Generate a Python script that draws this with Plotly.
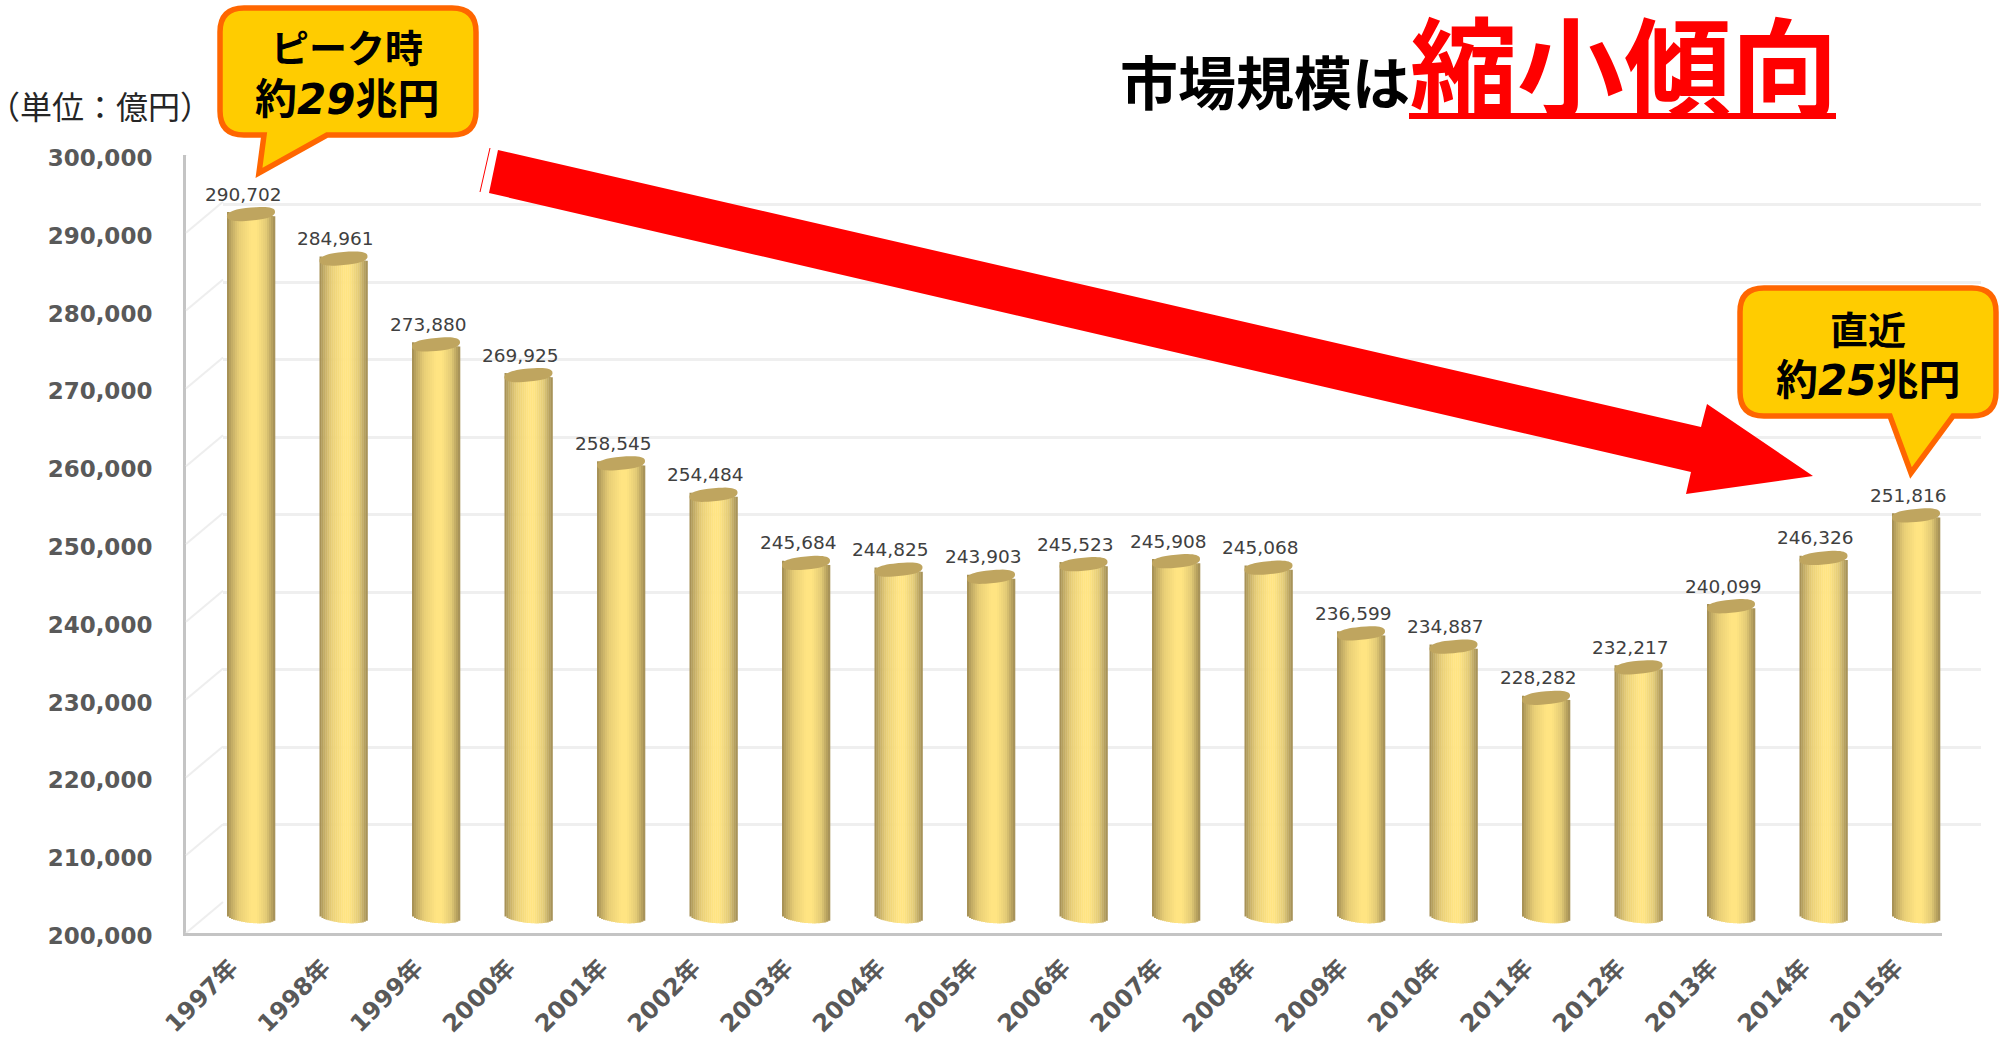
"""Market size bar chart, 1997-2015, drawn as gradient cylinders."""
import math

import plotly.graph_objects as go

WIDTH = 1999
HEIGHT = 1038
CJK = "Noto Sans CJK JP"
LATIN = f"DejaVu Sans, {CJK}"

YEARS = ["1997年", "1998年", "1999年", "2000年", "2001年", "2002年", "2003年",
         "2004年", "2005年", "2006年", "2007年", "2008年", "2009年", "2010年",
         "2011年", "2012年", "2013年", "2014年", "2015年"]
VALUES = [290702, 284961, 273880, 269925, 258545, 254484, 245684, 244825, 243903,
          245523, 245908, 245068, 236599, 234887, 228282, 232217, 240099, 246326, 251816]
Y_TICKS = [200000, 210000, 220000, 230000, 240000, 250000, 260000, 270000, 280000, 290000, 300000]
Y_MIN = 200000
Y_MAX = 300000

# cylinder look, position across the bar -> colour
BAR_STOPS = [(0.0, (160, 138, 82)), (0.08, (190, 167, 98)), (0.25, (232, 206, 118)),
             (0.5, (255, 228, 130)), (0.62, (255, 228, 130)), (0.82, (226, 202, 118)),
             (0.94, (182, 160, 94)), (1.0, (160, 140, 86))]
TOP_COLOR = "#bfa55f"
STRIPS = 24
BAR_PX = 48
STEP_PX = 92.5
CAP_RY = 6.5
CAP_TILT = 2.2
UNITS_PER_PX = (Y_MAX - Y_MIN) / 775
BAR_PAD_PX = 12


def px(x):
    return x / WIDTH


def py(y):
    return 1 - y / HEIGHT


def strip_color(t):
    for (a, ca), (b, cb) in zip(BAR_STOPS, BAR_STOPS[1:]):
        if t <= b:
            k = (t - a) / (b - a)
            return "rgb(%d,%d,%d)" % tuple(round(p + (q - p) * k) for p, q in zip(ca, cb))
    return "rgb(160,140,86)"


def poly_path(points):
    cmds = [f"{'M' if i == 0 else 'L'}{px(x):.5f},{py(y):.5f}" for i, (x, y) in enumerate(points)]
    return " ".join(cmds) + " Z"


def callout_path(x0, y0, x1, y1, r, tip, base_a, base_b):
    # rounded box with the pointer on its lower edge, drawn clockwise
    p = lambda x, y: f"{px(x):.5f},{py(y):.5f}"
    return (f"M{p(x0 + r, y0)} L{p(x1 - r, y0)} Q{p(x1, y0)} {p(x1, y0 + r)} "
            f"L{p(x1, y1 - r)} Q{p(x1, y1)} {p(x1 - r, y1)} "
            f"L{p(base_b, y1)} L{p(*tip)} L{p(base_a, y1)} "
            f"L{p(x0 + r, y1)} Q{p(x0, y1)} {p(x0, y1 - r)} "
            f"L{p(x0, y0 + r)} Q{p(x0, y0)} {p(x0 + r, y0)} Z")


fig = go.Figure()

# back wall grid and front frame need a trace to have their axes drawn
fig.add_trace(go.Scatter(x=[0], y=[Y_MIN], mode="none", xaxis="x", yaxis="y", showlegend=False, hoverinfo="skip"))
fig.add_trace(go.Scatter(x=[0], y=[Y_MIN], mode="none", xaxis="x2", yaxis="y2", showlegend=False, hoverinfo="skip"))

strip_w = BAR_PX / STEP_PX / STRIPS
for s in range(STRIPS):
    t = (s + 0.5) / STRIPS
    u = 2 * t - 1
    tilt = -CAP_TILT * u * UNITS_PER_PX
    bottom = Y_MIN + tilt - 6 * math.sqrt(1 - u * u) * UNITS_PER_PX
    tops = [v + tilt for v in VALUES]
    fig.add_trace(go.Bar(
        x=YEARS,
        y=[top - bottom for top in tops],
        base=bottom,
        width=strip_w * 1.15,
        offset=-BAR_PX / STEP_PX / 2 + s * strip_w,
        marker=dict(color=strip_color(t), line=dict(width=0)),
        xaxis="x3",
        yaxis="y3",
        showlegend=False,
        hoverinfo="skip",
    ))

shapes = []

# side walls of the 3D frame
for tick in Y_TICKS:
    shapes.append(dict(type="line", xref="paper", yref="y2", xsizemode="pixel", ysizemode="pixel",
                       xanchor=px(186), yanchor=tick, x0=0, x1=37, y0=0, y1=31,
                       line=dict(color="#eeeeee", width=2)))

# cylinder tops, a little squarer than an ellipse
cap_pts = []
for k in range(48):
    a = 2 * math.pi * k / 48
    ca = math.copysign(abs(math.cos(a)) ** 0.75, math.cos(a))
    sa = math.copysign(abs(math.sin(a)) ** 0.85, math.sin(a))
    cx = BAR_PX / 2 * ca
    cy = CAP_RY * sa + CAP_TILT * ca
    cap_pts.append(f"{'M' if k == 0 else 'L'}{cx:.2f},{cy:.2f}")
cap_path = " ".join(cap_pts) + " Z"
for year, value in zip(YEARS, VALUES):
    shapes.append(dict(type="path", xref="x3", yref="y3", xsizemode="pixel", ysizemode="pixel",
                       xanchor=year, yanchor=value, path=cap_path,
                       fillcolor=TOP_COLOR, line=dict(width=0)))

# white box behind the headline hides the top grid line
shapes.append(dict(type="rect", xref="paper", yref="paper", x0=px(1104), x1=px(1908), y0=py(138), y1=py(90),
                   fillcolor="white", line=dict(width=0)))
shapes.append(dict(type="rect", xref="paper", yref="paper", x0=px(1409), x1=px(1836), y0=py(119), y1=py(113),
                   fillcolor="#ff0000", line=dict(width=0)))

# red trend arrow
shapes.append(dict(type="path", xref="paper", yref="paper",
                   path=poly_path([(498, 150), (1701, 427), (1707, 404), (1813, 476),
                                   (1686, 494), (1691, 472), (489, 193)]),
                   fillcolor="#ff0000", line=dict(width=0)))
shapes.append(dict(type="line", xref="paper", yref="paper", x0=px(490), y0=py(148), x1=px(480), y1=py(192),
                   line=dict(color="#ff0000", width=1)))

# callouts
shapes.append(dict(type="path", xref="paper", yref="paper",
                   path=callout_path(220, 8, 476, 135, 24, (259, 173), 264, 327),
                   fillcolor="#ffcc00", line=dict(color="#ff6600", width=5.5)))
shapes.append(dict(type="path", xref="paper", yref="paper",
                   path=callout_path(1740, 288, 1996, 416, 24, (1911, 473), 1890, 1953),
                   fillcolor="#ffcc00", line=dict(color="#ff6600", width=5.5)))

annotations = []
for year, value in zip(YEARS, VALUES):
    annotations.append(dict(x=year, y=value, xref="x3", yref="y3", text=f"{value:,}", showarrow=False,
                            xshift=-8, yshift=20, font=dict(family="DejaVu Sans", size=18.5, color="#404040")))


def note(x, y, text, size, color="#000000", family=CJK):
    annotations.append(dict(x=px(x), y=py(y), xref="paper", yref="paper", text=text, showarrow=False,
                            xanchor="center", yanchor="middle", font=dict(family=family, size=size, color=color)))


note(100, 105, "（単位：億円）", 32, "#262626")
note(347, 46, "<b>ピーク時</b>", 38)
note(347, 100, "<b>約<i>29</i>兆円</b>", 42, family=LATIN)
note(1868, 327, "<b>直近</b>", 38)
note(1868, 380, "<b>約<i>25</i>兆円</b>", 42, family=LATIN)
note(1265, 80, "<b>市場規模は</b>", 58)
note(1624, 62, "<b>縮小傾向</b>", 107, "#ff0000")

fig.update_layout(
    width=WIDTH,
    height=HEIGHT,
    margin=dict(l=0, r=0, t=0, b=0, autoexpand=False),
    paper_bgcolor="white",
    plot_bgcolor="rgba(0,0,0,0)",
    barmode="overlay",
    showlegend=False,
    shapes=shapes,
    annotations=annotations,
    font=dict(family=LATIN),
    # back wall
    xaxis=dict(domain=[px(223), px(1981)], visible=False, range=[0, 1], anchor="y"),
    yaxis=dict(domain=[py(902), py(127)], range=[Y_MIN, Y_MAX], tickvals=Y_TICKS, showticklabels=False,
               ticks="", showgrid=True, gridcolor="#efefef", gridwidth=2.5, zeroline=False, anchor="x"),
    # front frame with the value labels
    xaxis2=dict(domain=[px(186), px(1942)], range=[0, 1], showticklabels=False, ticks="", showgrid=False,
                zeroline=False, showline=True, linecolor="#c4c4c4", linewidth=3, anchor="y2"),
    yaxis2=dict(domain=[py(933), py(155)], range=[Y_MIN, Y_MAX], tickvals=Y_TICKS, tickformat=",",
                ticks="outside", ticklen=26, tickcolor="rgba(0,0,0,0)", showgrid=False, zeroline=False,
                showline=True, linecolor="#c4c4c4", linewidth=3, anchor="x2", ticklabelshift=3,
                tickfont=dict(family="DejaVu Sans", size=23, color="#595959", weight="bold")),
    # cylinders and the year labels
    xaxis3=dict(domain=[px(204.75), px(1962.25)], type="category", categoryorder="array", categoryarray=YEARS,
                range=[-0.5, 18.5], tickangle=-45, ticks="", showgrid=False, zeroline=False,
                anchor="free", position=py(933), ticklabelstandoff=15, ticklabelshift=-20,
                tickfont=dict(family=LATIN, size=24, color="#595959", weight="bold")),
    yaxis3=dict(domain=[py(917 + BAR_PAD_PX), py(142)], range=[Y_MIN - BAR_PAD_PX * UNITS_PER_PX, Y_MAX],
                visible=False, anchor="x3"),
)

fig.write_html("out.html", post_script="document.body.style.margin='0';", config={"displayModeBar": False})
